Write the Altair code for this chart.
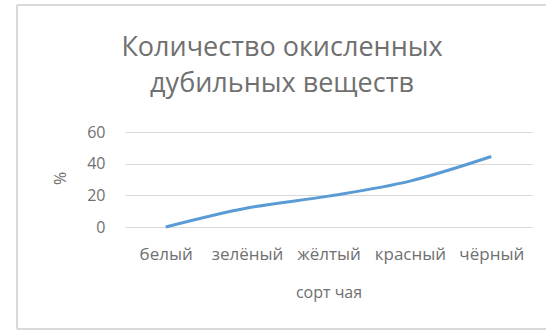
import altair as alt
import pandas as pd

categories = ["белый", "зелёный", "жёлтый", "красный", "чёрный"]
values = [0, 12, 19.5, 29, 44.5]
y_ticks = [0, 20, 40, 60]
title_lines = ["Количество окисленных", "дубильных веществ"]
x_title = "сорт чая"
y_title = "%"

df = pd.DataFrame({"sort": categories, "pct": values})

FONT = "Open Sans"
GRAY = "#707070"
BORDER = "#d9d9d9"

W, H = 407, 95
PL, PT = 125, 132
PR, PB = 546 - PL - W, 331 - PT - H

line = alt.Chart(df).mark_line(color="#5b9bd5", strokeWidth=3, interpolate="monotone").encode(
    x=alt.X("sort:N", sort=categories,
            scale=alt.Scale(type="point", padding=0.5),
            axis=alt.Axis(title=x_title, labelAngle=0, domain=False, ticks=False,
                          labelPadding=19, labelFontSize=17, labelColor=GRAY,
                          labelFont=FONT, labelOverlap=False,
                          titleFont=FONT, titleFontSize=16, titleColor=GRAY,
                          titleFontWeight="normal", titleY=65, titleBaseline="middle")),
    y=alt.Y("pct:Q", scale=alt.Scale(domain=[0, 60], nice=False),
            axis=alt.Axis(title=y_title, values=y_ticks, domain=False, ticks=False,
                          labelPadding=20, labelFontSize=16, labelColor=GRAY,
                          labelFont=FONT, gridColor=BORDER, gridWidth=1,
                          titleFont=FONT, titleFontSize=16, titleColor=GRAY,
                          titleFontWeight="normal", titleX=-65, titleY=46,
                          titleBaseline="middle", titleAlign="center")),
)

single = alt.Chart(df).transform_aggregate(n="count()")

left_edge = single.mark_rule(color=BORDER, strokeWidth=2).encode(
    x=alt.value(17 - PL), y=alt.value(5 - PT), y2=alt.value(329 - PT))
top_edge = single.mark_rule(color=BORDER, strokeWidth=2).encode(
    x=alt.value(17 - PL), x2=alt.value(546 - PL), y=alt.value(5 - PT))
bottom_edge = single.mark_rule(color=BORDER, strokeWidth=2).encode(
    x=alt.value(17 - PL), x2=alt.value(546 - PL), y=alt.value(329 - PT))

title = single.mark_text(
    text=title_lines, font=FONT, fontSize=27, color=GRAY, align="center",
    baseline="alphabetic", lineHeight=36,
).encode(x=alt.value(282 - PL), y=alt.value(56 - PT))

chart = alt.layer(left_edge, top_edge, bottom_edge, title, line).properties(
    width=W, height=H,
    padding={"left": PL, "top": PT, "right": PR, "bottom": PB},
    autosize=alt.AutoSizeParams(type="none"),
    background="white",
).configure_view(stroke=None)

chart.save("out.html", embed_options={"renderer": "svg", "actions": False})
